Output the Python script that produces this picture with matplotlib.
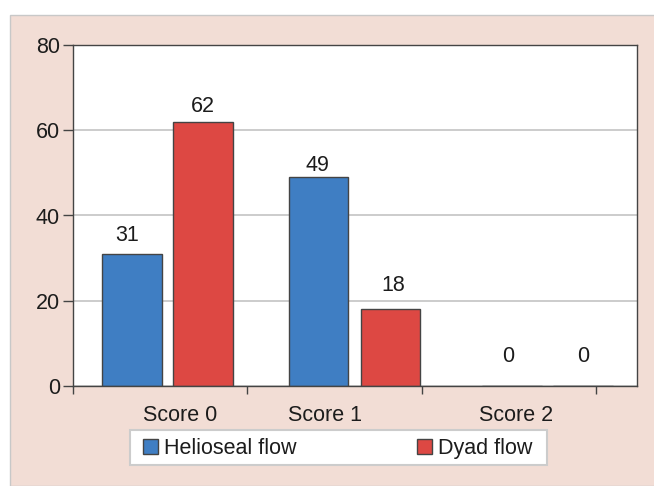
import matplotlib
matplotlib.use("Agg")
import matplotlib.pyplot as plt
from matplotlib.patches import Rectangle, Patch
import numpy as np

categories = ["Score 0", "Score 1", "Score 2"]
helioseal = [31, 49, 0]
dyad = [62, 18, 0]
series_names = ["Helioseal flow", "Dyad flow"]
y_ticks = [0, 20, 40, 60, 80]

# layout (offsets from category centres, and label offsets in pixels)
blue_off = np.array([-0.161, -0.093, 0.02])
red_off = np.array([0.247, 0.322, 0.425])
label_off = np.array([0.115, -0.052, 0.04])
bar_w = 0.341
blue_lab_dx = [-5.3, -1.1, -4.5]
blue_lab_dy = [13, 6, 24]
red_lab_dx = [-0.3, 2.7, 0]
red_lab_dy = [10, 18.6, 24]

BLUE = "#3F7EC3"
RED = "#DD4843"
PINK = "#F2DDD5"
EDGE = "#444444"
TXT = "#1c1c1c"
FS = 15.5
PX = 72 / 100  # points per pixel

plt.rcParams['font.family'] = ['Liberation Sans', 'DejaVu Sans']
fig = plt.figure(figsize=(6.54, 4.86), dpi=100)
fig.patch.set_facecolor("white")
fig.patches.append(Rectangle((10/654, 0), 1, 1 - 15/486, transform=fig.transFigure,
                             facecolor=PINK, edgecolor="#c8c8c8", lw=1.0, zorder=-10))

ax = fig.add_axes([73/654, 100/486, 564/654, 341/486])
ax.set_facecolor("white")
x = np.arange(len(categories))

ax.bar(x + blue_off, helioseal, bar_w, color=BLUE, edgecolor=EDGE, lw=1.0, zorder=2)
ax.bar(x + red_off, dyad, bar_w, color=RED, edgecolor=EDGE, lw=1.0, zorder=2)

for xi, v, dx, dy in zip(x + blue_off, helioseal, blue_lab_dx, blue_lab_dy):
    ax.annotate(str(v), (xi, v), xytext=(dx * PX, dy * PX), textcoords="offset points",
                ha="center", va="baseline", fontsize=FS, color=TXT)
for xi, v, dx, dy in zip(x + red_off, dyad, red_lab_dx, red_lab_dy):
    ax.annotate(str(v), (xi, v), xytext=(dx * PX, dy * PX), textcoords="offset points",
                ha="center", va="baseline", fontsize=FS, color=TXT)

ax.set_xlim(-0.5, 2.736)
ax.set_ylim(0, 80)
ax.set_yticks(y_ticks)
ax.yaxis.grid(True, color="#c4c4c4", lw=1.2, zorder=0)
ax.set_axisbelow(True)

ax.set_xticks(x + label_off)
ax.set_xticklabels(categories, fontsize=FS, color=TXT)
ax.tick_params(axis="x", which="major", length=0, pad=13.5)
ax.set_xticks(np.arange(-0.5, 3.0, 1.0), minor=True)
ax.tick_params(axis="x", which="minor", length=6, width=1.0, color=EDGE, direction="out")
ax.tick_params(axis="y", length=7, width=1.0, color=EDGE, pad=2.5, labelsize=FS, labelcolor=TXT)

for s in ax.spines.values():
    s.set_color(EDGE)
    s.set_linewidth(1.0)
    s.set_zorder(3)

# legend box
fig.patches.append(Rectangle((130/654, 1 - 465/486), 417/654, 35/486, transform=fig.transFigure,
                             facecolor="white", edgecolor="#cccccc", lw=1.5, zorder=1))
handles = [Patch(facecolor=BLUE, edgecolor=EDGE, lw=1.0),
           Patch(facecolor=RED, edgecolor=EDGE, lw=1.0)]
leg = fig.legend(handles, series_names, loc="center left",
                 bbox_to_anchor=(143/654, 1 - 448.5/486), ncol=2, frameon=False,
                 fontsize=FS, handlelength=0.70, handleheight=0.70, handletextpad=0.28,
                 columnspacing=5.6, borderpad=0, borderaxespad=0)
leg.set_zorder(5)
for t in leg.get_texts():
    t.set_color(TXT)

fig.savefig("out.png", dpi=100, facecolor=fig.get_facecolor())
